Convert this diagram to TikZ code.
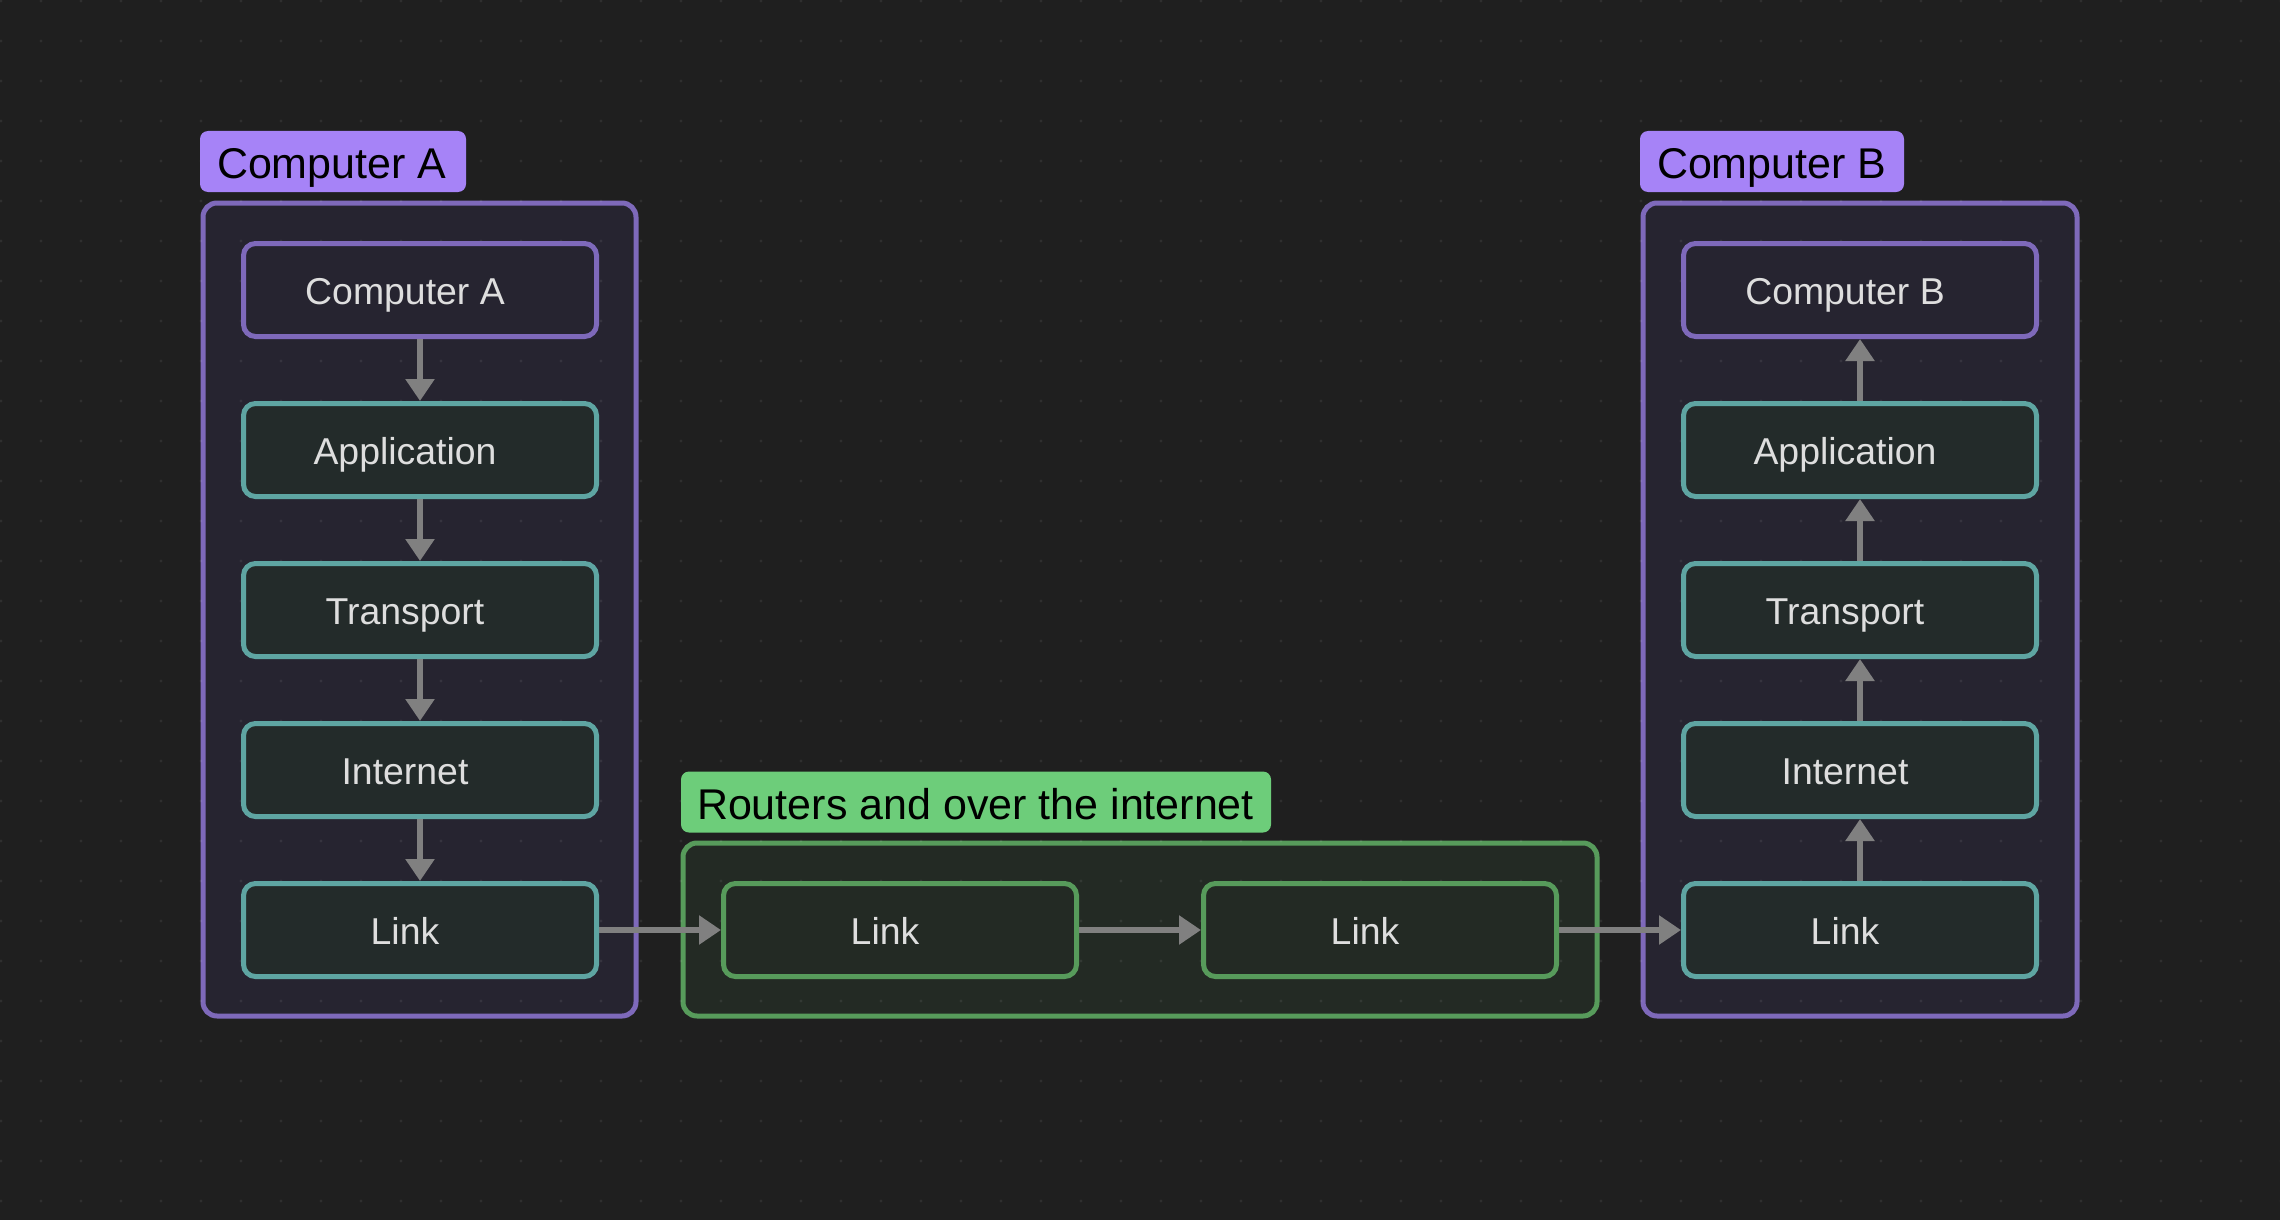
\documentclass[tikz,border=0pt]{standalone}
\usepackage{fontspec}
\setmainfont{Liberation Sans}
\usetikzlibrary{arrows.meta}
\definecolor{bg}{HTML}{1F1F1F}
\definecolor{purpS}{HTML}{7E69BA}
\definecolor{purpF}{HTML}{262430}
\definecolor{purpL}{HTML}{A683F7}
\definecolor{tealS}{HTML}{5EA5A2}
\definecolor{tealF}{HTML}{232B2A}
\definecolor{greenS}{HTML}{579B5B}
\definecolor{greenF}{HTML}{232A24}
\definecolor{greenL}{HTML}{6DCD7A}
\definecolor{arrowc}{HTML}{808080}
\definecolor{txt}{HTML}{DEDEDE}
\tikzset{
  box/.style={draw, line width=2.5pt, rounded corners=6pt, minimum width=176.5pt, minimum height=46.5pt, inner sep=0pt},
  tealbox/.style={box, draw=tealS, fill=tealF},
  purplebox/.style={box, draw=purpS, fill=purpF},
  greenbox/.style={box, draw=greenS, fill=greenF},
  boxtext/.style={text=txt, font=\fontsize{18.7}{22}\selectfont, inner sep=0pt, text height=13.4pt, text depth=0pt},
  group/.style={draw, line width=2.5pt, rounded corners=7pt, inner sep=0pt},
  tag/.style={rounded corners=4pt, inner sep=0pt, minimum height=30.5pt},
  tagtext/.style={text=black, font=\fontsize{21.5}{26}\selectfont, inner sep=0pt, text height=15.4pt, text depth=0pt, anchor=west},
  flow/.style={draw=arrowc, line width=3pt, -{Triangle[length=11pt,width=14pt]}},
}
\begin{document}
\begin{tikzpicture}[x=0.5pt,y=-0.5pt]
\fill[bg] (0,0) rectangle (2280,1220);
\useasboundingbox (0,0) rectangle (2280,1220);

% group containers
\node[group, draw=purpS, fill=purpF, minimum width=216.5pt, minimum height=406.5pt] (grpA) at (419.5,609.5) {};
\node[group, draw=purpS, fill=purpF, minimum width=217pt, minimum height=406.5pt] (grpB) at (1860,609.5) {};
\node[group, draw=greenS, fill=greenF, minimum width=457pt, minimum height=86.5pt] (grpR) at (1140,929.5) {};

% dot grid
\foreach \i in {0,...,57}{
  \foreach \j in {0,...,30}{
    \fill[white, opacity=0.075] (40*\i+1,40*\j+1) circle[radius=0.8pt];
  }
}

% group tags
\node[tag, fill=purpL, minimum width=133pt] (tagA) at (333,161.5) {};
\node[tagtext] (tagAt) at ([xshift=8.5pt,yshift=-1pt]tagA.west) {Computer A};
\node[tag, fill=purpL, minimum width=132pt] (tagB) at (1772,161.5) {};
\node[tagtext] (tagBt) at ([xshift=8.5pt,yshift=-1pt]tagB.west) {Computer B};
\node[tag, fill=greenL, minimum width=295pt] (tagR) at (976,802) {};
\node[tagtext] (tagRt) at ([xshift=8pt,yshift=-1pt]tagR.west) {Routers and over the internet};

% Computer A stack
\node[purplebox] (a1) at (420,290) {};
\node[tealbox] (a2) at (420,450) {};
\node[tealbox] (a3) at (420,610) {};
\node[tealbox] (a4) at (420,770) {};
\node[tealbox] (a5) at (420,930) {};
\node[boxtext] (a1t) at ([xshift=-7.5pt,yshift=-0.75pt]a1.center) {Computer A};
\node[boxtext] (a2t) at ([xshift=-7.5pt,yshift=-0.75pt]a2.center) {Application};
\node[boxtext] (a3t) at ([xshift=-7.5pt,yshift=-0.75pt]a3.center) {Transport};
\node[boxtext] (a4t) at ([xshift=-7.5pt,yshift=-0.75pt]a4.center) {Internet};
\node[boxtext] (a5t) at ([xshift=-7.5pt,yshift=-0.75pt]a5.center) {Link};

% Routers
\node[greenbox] (r1) at (900,930) {};
\node[greenbox] (r2) at (1380,930) {};
\node[boxtext] (r1t) at ([xshift=-7.5pt,yshift=-0.75pt]r1.center) {Link};
\node[boxtext] (r2t) at ([xshift=-7.5pt,yshift=-0.75pt]r2.center) {Link};

% Computer B stack
\node[purplebox] (b1) at (1860,290) {};
\node[tealbox] (b2) at (1860,450) {};
\node[tealbox] (b3) at (1860,610) {};
\node[tealbox] (b4) at (1860,770) {};
\node[tealbox] (b5) at (1860,930) {};
\node[boxtext] (b1t) at ([xshift=-7.5pt,yshift=-0.75pt]b1.center) {Computer B};
\node[boxtext] (b2t) at ([xshift=-7.5pt,yshift=-0.75pt]b2.center) {Application};
\node[boxtext] (b3t) at ([xshift=-7.5pt,yshift=-0.75pt]b3.center) {Transport};
\node[boxtext] (b4t) at ([xshift=-7.5pt,yshift=-0.75pt]b4.center) {Internet};
\node[boxtext] (b5t) at ([xshift=-7.5pt,yshift=-0.75pt]b5.center) {Link};

% connectors
\draw[flow] (a1) -- (a2);
\draw[flow] (a2) -- (a3);
\draw[flow] (a3) -- (a4);
\draw[flow] (a4) -- (a5);
\draw[flow] (a5) -- (r1);
\draw[flow] (r1) -- (r2);
\draw[flow] (r2) -- (b5);
\draw[flow] (b5) -- (b4);
\draw[flow] (b4) -- (b3);
\draw[flow] (b3) -- (b2);
\draw[flow] (b2) -- (b1);
\end{tikzpicture}
\end{document}
